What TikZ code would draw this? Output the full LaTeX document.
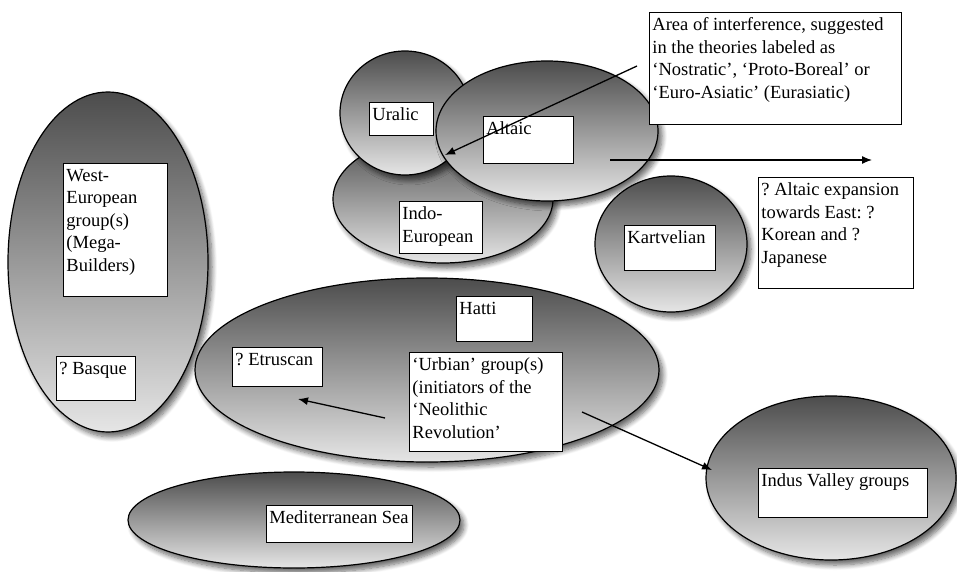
\documentclass[tikz,border=0pt]{standalone}
\usepackage{fontspec}
\setmainfont{Liberation Serif}
\usetikzlibrary{positioning,
        shapes,
        shadows.blur,
        arrows.meta}

\frenchspacing
\newcommand{\boxtext}[3]{\parbox[c][#2][t]{#1}{\vspace*{2.5pt}\raggedright #3}}

\begin{document}
\begin{tikzpicture}[x=1pt,y=-1pt,
        zone/.style={ellipse,draw,line width=1.2pt,top color=black!70,bottom color=black!10,
                blur shadow={shadow xshift=4pt,shadow yshift=-5pt,shadow opacity=60,shadow blur steps=8,shadow blur radius=5pt}},
        namebox/.style={draw,fill=white,line width=0.9pt,anchor=north west,inner sep=3pt,
                font=\fontsize{18.5}{22.5}\selectfont},
        spread/.style={-{Latex[length=10pt,width=8pt]},line width=1.3pt}]
            \useasboundingbox (0,0) rectangle (957,572);

            % language areas
            \node [zone,minimum width=200pt,minimum height=340pt] (westE) at (108,262) {};
            \node [zone,minimum width=220pt,minimum height=128pt] (indoE) at (443,199) {};
            \node [zone,minimum width=130pt,minimum height=124pt] (uralE) at (405,113) {};
            \node [zone,minimum width=222pt,minimum height=140pt] (altE) at (547,131) {};
            \node [zone,minimum width=152pt,minimum height=136pt] (kartE) at (671,244) {};
            \node [zone,minimum width=464pt,minimum height=184pt] (urbE) at (427,370) {};
            \node [zone,minimum width=332pt,minimum height=96pt] (medE) at (294,520) {};
            \node [zone,minimum width=250pt,minimum height=164pt] (indusE) at (831,478) {};

            % labels
            \node [namebox] (west) at (63,163) {\boxtext{98pt}{127pt}{West-\\European\\group(s)\\(Mega-\\Builders)}};
            \node [namebox] (basque) at (56,356) {\boxtext{73pt}{38pt}{? Basque}};
            \node [namebox] (uralic) at (369,102) {\boxtext{58pt}{27pt}{Uralic}};
            \node [namebox] (altaic) at (483,116) {\boxtext{84pt}{41pt}{Altaic}};
            \node [namebox] (indo) at (399,201) {\boxtext{77pt}{46pt}{Indo-\\European}};
            \node [namebox] (area) at (649,12) {\boxtext{246pt}{106pt}{Area of interference, suggested\\in the theories labeled as\\`Nostratic', `Proto-Boreal' or\\`Euro-Asiatic' (Eurasiatic)}};
            \node [namebox] (kart) at (624,225) {\boxtext{85pt}{39pt}{Kartvelian}};
            \node [namebox] (east) at (758,177) {\boxtext{149pt}{105pt}{? Altaic expansion\\towards East: ?\\Korean and ?\\Japanese}};
            \node [namebox] (hatti) at (456,296) {\boxtext{70pt}{39pt}{Hatti}};
            \node [namebox] (etr) at (232,347) {\boxtext{84pt}{33pt}{? Etruscan}};
            \node [namebox] (urb) at (409,352) {\boxtext{147pt}{93pt}{`Urbian' group(s)\\(initiators of the\\`Neolithic\\Revolution'}};
            \node [namebox] (indus) at (758,468) {\boxtext{163pt}{43pt}{Indus Valley groups}};
            \node [namebox] (med) at (266,505) {\boxtext{140pt}{31pt}{Mediterranean Sea}};

            % arrow ends
            \coordinate (areaS) at (637,66);
            \coordinate (areaT) at (445,155);
            \coordinate (eastS) at (610,160);
            \coordinate (eastT) at (872,160);
            \coordinate (etrS) at (385,418);
            \coordinate (etrT) at (298,399);
            \coordinate (indS) at (582,412);
            \coordinate (indT) at (712,470);

            \draw [spread] (areaS) -- (areaT);
            \draw [spread] (eastS) -- (eastT);
            \draw [spread] (etrS) -- (etrT);
            \draw [spread] (indS) -- (indT);
        \end{tikzpicture}
\end{document}
